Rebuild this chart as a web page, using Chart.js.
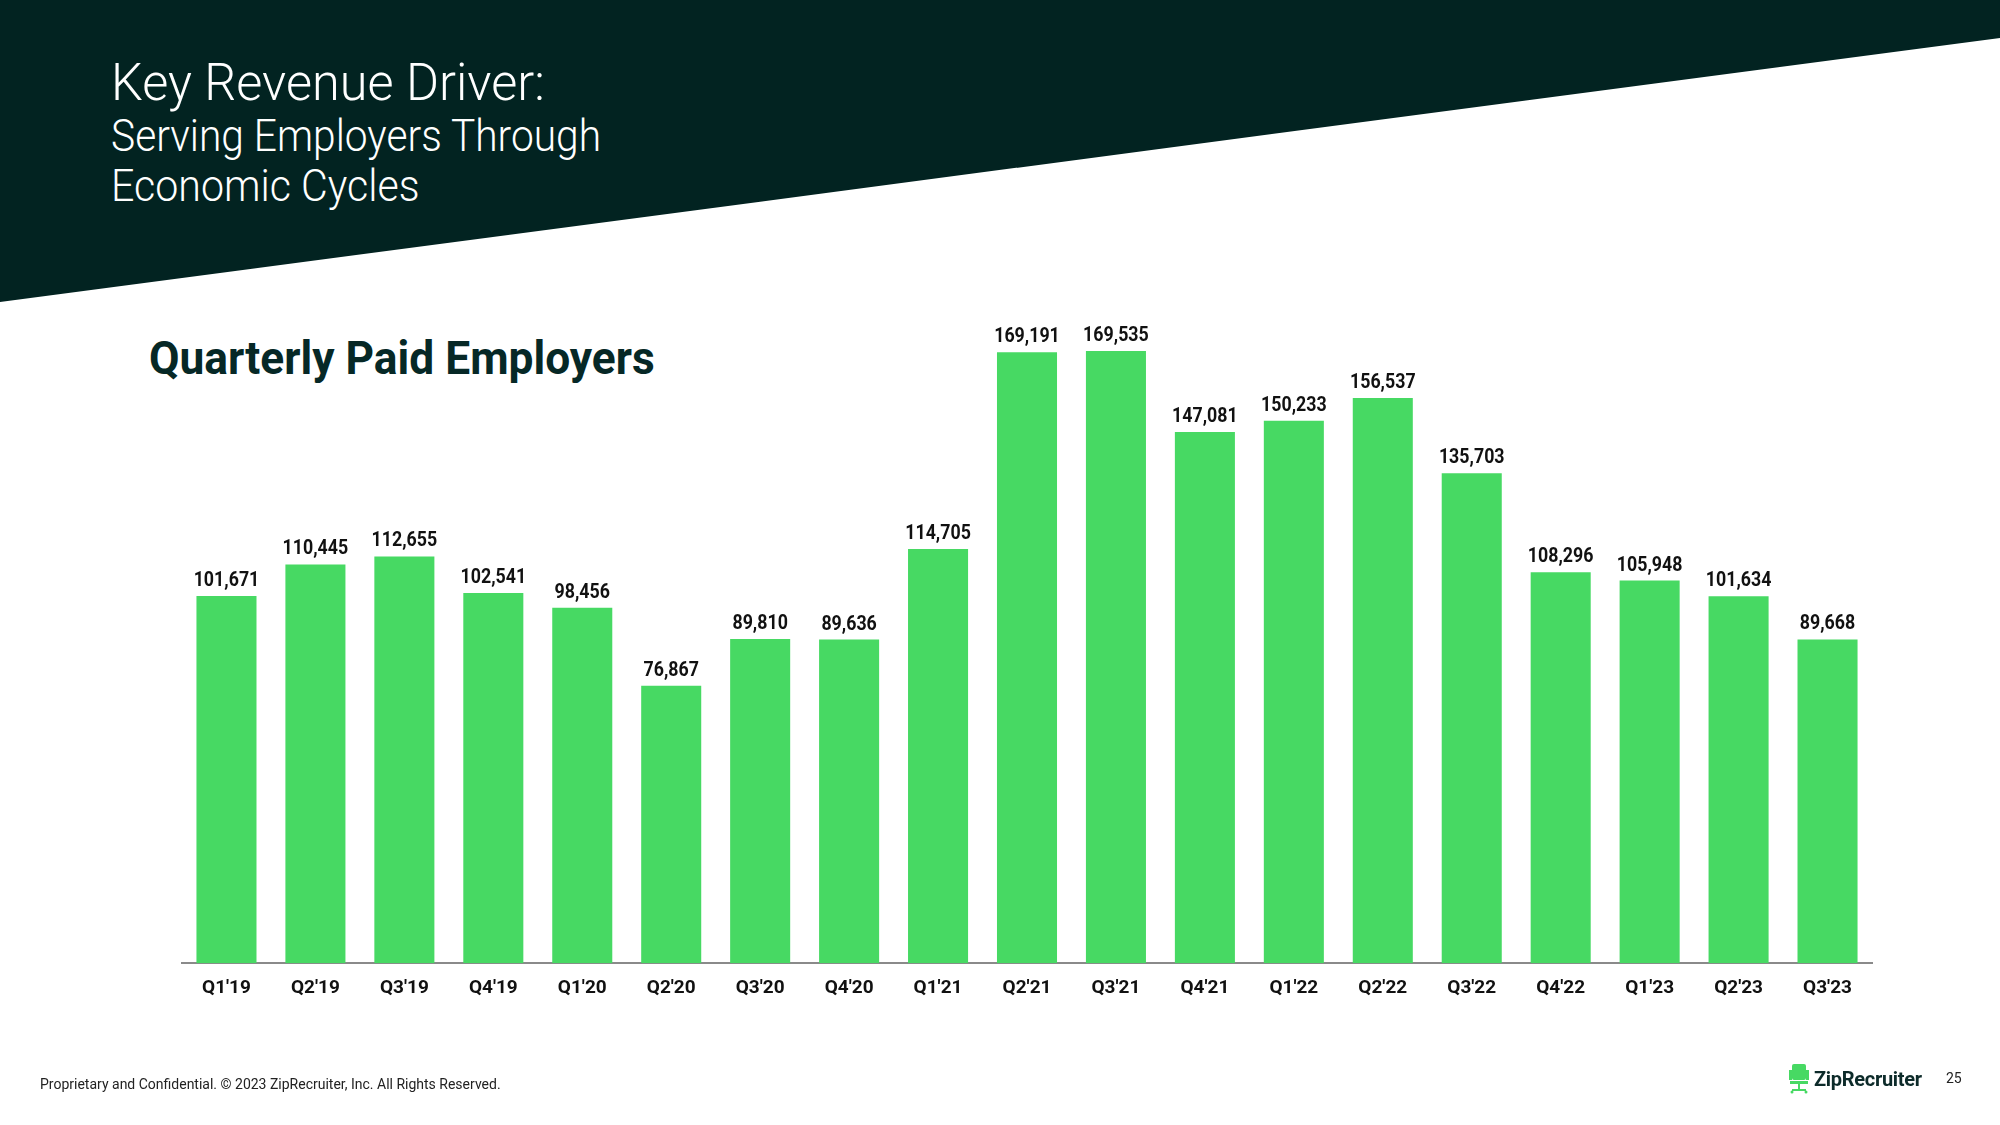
<!DOCTYPE html>
<html>
<head>
<meta charset="utf-8">
<script src="https://cdn.jsdelivr.net/npm/chart.js@4"></script>
<style>
    html, body { margin: 0; padding: 0; background: #fff; }
    body { width: 2000px; height: 1125px; position: relative; overflow: hidden; font-family: Roboto, sans-serif; }
    #fundo { position: absolute; left: 0; top: 0; }
    .titulo { position: absolute; left: 111px; color: #fff; font-weight: 300; white-space: nowrap; transform-origin: left top; }
    #t1 { top: 52px; font-size: 52px; transform: scaleX(0.97); }
    #t2 { top: 110px; font-size: 44px; transform: scaleX(0.925); }
    #t3 { top: 160px; font-size: 44px; transform: scaleX(0.935); }
    #subtitulo { position: absolute; left: 149px; top: 331px; font-weight: 700; font-size: 46px; color: #062826; white-space: nowrap; transform-origin: left top; transform: scaleX(0.963); }
    #grafico { position: absolute; left: 0; top: 0; }
    #rodape { position: absolute; left: 40px; top: 1076px; font-size: 14px; color: #222; }
    #logo { position: absolute; left: 1789px; top: 1064px; display: flex; align-items: center; }
    #logo span { font-weight: 700; font-size: 20px; color: #0d2b2a; margin-left: 5px; letter-spacing: -0.3px; }
    #pagina { position: absolute; left: 1946px; top: 1070px; font-size: 14px; color: #222; }
</style>
</head>
<body>
<svg id="fundo" width="2000" height="1125">
    <polygon points="0,0 2000,0 2000,38 0,302" fill="#022321"></polygon>
</svg>
<div class="titulo" id="t1">Key Revenue Driver:</div>
<div class="titulo" id="t2">Serving Employers Through</div>
<div class="titulo" id="t3">Economic Cycles</div>
<div id="subtitulo">Quarterly Paid Employers</div>
<canvas id="grafico" width="2000" height="1125"></canvas>
<div id="rodape">Proprietary and Confidential. © 2023 ZipRecruiter, Inc. All Rights Reserved.</div>
<div id="logo">
    <svg width="20" height="30" viewBox="0 0 20 30">
        <rect x="3" y="0" width="14" height="16" rx="2" fill="#47d963"></rect>
        <rect x="0" y="6" width="3" height="10" fill="#47d963"></rect>
        <rect x="17" y="6" width="3" height="10" fill="#47d963"></rect>
        <rect x="1" y="17" width="18" height="3" fill="#47d963"></rect>
        <rect x="9" y="20" width="2" height="6" fill="#47d963"></rect>
        <rect x="3" y="25" width="14" height="2" fill="#47d963"></rect>
        <circle cx="3" cy="28" r="1.5" fill="#47d963"></circle>
        <circle cx="17" cy="28" r="1.5" fill="#47d963"></circle>
    </svg>
    <span>ZipRecruiter</span>
</div>
<div id="pagina">25</div>

<script>
const trimestres = ["Q1'19", "Q2'19", "Q3'19", "Q4'19", "Q1'20", "Q2'20", "Q3'20", "Q4'20", "Q1'21", "Q2'21",
    "Q3'21", "Q4'21", "Q1'22", "Q2'22", "Q3'22", "Q4'22", "Q1'23", "Q2'23", "Q3'23"];
const empregadores = [101671, 110445, 112655, 102541, 98456, 76867, 89810, 89636, 114705, 169191,
    169535, 147081, 150233, 156537, 135703, 108296, 105948, 101634, 89668];

const VERDE = '#47d963';

// escreve o valor em cima de cada barra (fonte um pouco estreitada)
const rotulosBarras = {
    id: 'rotulosBarras',
    afterDatasetsDraw(chart) {
        const ctx = chart.ctx;
        const meta = chart.getDatasetMeta(0);
        meta.data.forEach((barra, i) => {
            ctx.save();
            ctx.translate(barra.x, barra.y - 5);
            ctx.scale(0.89, 1);
            ctx.font = 'bold 20px Roboto, sans-serif';
            ctx.fillStyle = '#111';
            ctx.textAlign = 'center';
            ctx.textBaseline = 'bottom';
            ctx.fillText(empregadores[i].toLocaleString('en-US'), 0, 0);
            ctx.restore();
        });
    }
};

new Chart(document.getElementById('grafico').getContext('2d'), {
    type: 'bar',
    data: {
        labels: trimestres,
        datasets: [{
            data: empregadores,
            backgroundColor: VERDE,
            categoryPercentage: 1,
            barPercentage: 0.675
        }]
    },
    options: {
        responsive: false,
        animation: false,
        layout: { padding: { left: 182, right: 128, top: 241, bottom: 111 } },
        plugins: { legend: { display: false }, tooltip: { enabled: false } },
        scales: {
            x: {
                grid: { display: false, drawTicks: false },
                border: { display: true, color: '#8a8a8a', width: 2 },
                ticks: { color: '#111', padding: 14, font: { family: 'Roboto', weight: 'bold', size: 19 } }
            },
            y: { display: false, min: 0, max: 200000 }
        }
    },
    plugins: [rotulosBarras]
});
</script>
</body>
</html>
